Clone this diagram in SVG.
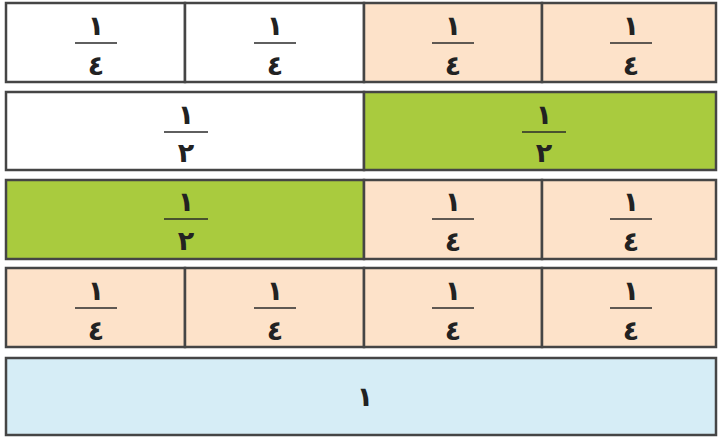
<svg xmlns="http://www.w3.org/2000/svg" width="718" height="439" viewBox="0 0 718 439">
<style>
.c{stroke:#454545;stroke-width:2.5}
.w{fill:#ffffff}.p{fill:#fde2c9}.g{fill:#a9cb3e}.b{fill:#d6edf6}
.l{stroke:#2a2a2a;stroke-width:1.6}
text{font-family:"DejaVu Sans",sans-serif;font-weight:bold;font-size:27px;fill:#222;text-anchor:middle}
</style>
<rect width="718" height="439" fill="#ffffff"/>
<g id="row1">
<g id="r1c1"><rect class="c w" x="6" y="3" width="179" height="79"/><line class="l" x1="75" y1="43" x2="117" y2="43"/><text x="96" y="35">١</text><text x="96" y="75">٤</text></g>
<g id="r1c2"><rect class="c w" x="185" y="3" width="179" height="79"/><line class="l" x1="254" y1="43" x2="296" y2="43"/><text x="275" y="35">١</text><text x="275" y="75">٤</text></g>
<g id="r1c3"><rect class="c p" x="364" y="3" width="178" height="79"/><line class="l" x1="432" y1="43" x2="474" y2="43"/><text x="453" y="35">١</text><text x="453" y="75">٤</text></g>
<g id="r1c4"><rect class="c p" x="542" y="3" width="174" height="79"/><line class="l" x1="610" y1="43" x2="652" y2="43"/><text x="631" y="35">١</text><text x="631" y="75">٤</text></g>
</g>
<g id="row2">
<g id="r2c1"><rect class="c w" x="6" y="92" width="358" height="78"/><line class="l" x1="164" y1="132" x2="208" y2="132"/><text x="186" y="124">١</text><text x="186" y="162">٢</text></g>
<g id="r2c2"><rect class="c g" x="364" y="92" width="352" height="78"/><line class="l" x1="522" y1="132" x2="566" y2="132"/><text x="544" y="124">١</text><text x="544" y="162">٢</text></g>
</g>
<g id="row3">
<g id="r3c1"><rect class="c g" x="6" y="180" width="358" height="79"/><line class="l" x1="164" y1="219" x2="208" y2="219"/><text x="186" y="211">١</text><text x="186" y="250">٢</text></g>
<g id="r3c2"><rect class="c p" x="364" y="180" width="178" height="79"/><line class="l" x1="432" y1="219" x2="474" y2="219"/><text x="453" y="211">١</text><text x="453" y="251">٤</text></g>
<g id="r3c3"><rect class="c p" x="542" y="180" width="174" height="79"/><line class="l" x1="610" y1="219" x2="652" y2="219"/><text x="631" y="211">١</text><text x="631" y="251">٤</text></g>
</g>
<g id="row4">
<g id="r4c1"><rect class="c p" x="6" y="268" width="179" height="79"/><line class="l" x1="75" y1="308" x2="117" y2="308"/><text x="96" y="300">١</text><text x="96" y="340">٤</text></g>
<g id="r4c2"><rect class="c p" x="185" y="268" width="179" height="79"/><line class="l" x1="254" y1="308" x2="296" y2="308"/><text x="275" y="300">١</text><text x="275" y="340">٤</text></g>
<g id="r4c3"><rect class="c p" x="364" y="268" width="178" height="79"/><line class="l" x1="432" y1="308" x2="474" y2="308"/><text x="453" y="300">١</text><text x="453" y="340">٤</text></g>
<g id="r4c4"><rect class="c p" x="542" y="268" width="174" height="79"/><line class="l" x1="610" y1="308" x2="652" y2="308"/><text x="631" y="300">١</text><text x="631" y="340">٤</text></g>
</g>
<g id="row5">
<g id="r5c1"><rect class="c b" x="6" y="358" width="710" height="77"/><text x="365" y="406">١</text></g>
</g>
<g id="connectors"/>
</svg>
